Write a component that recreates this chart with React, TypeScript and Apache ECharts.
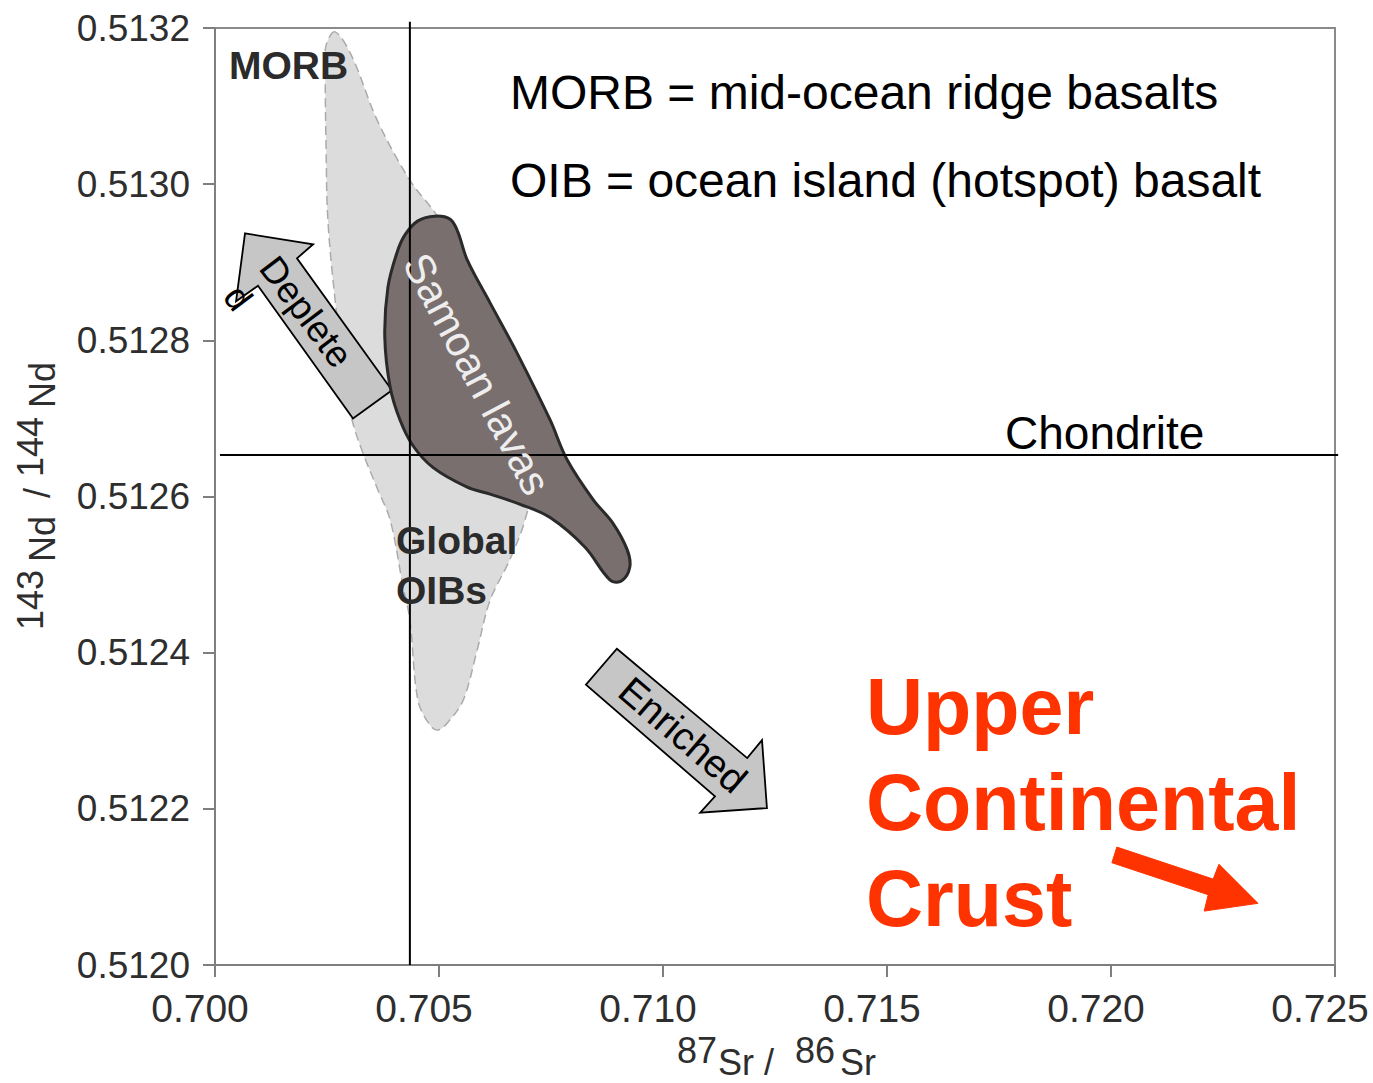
import React, { useEffect, useRef } from "react";
import * as echarts from "echarts";

// Axis ranges / ticks
const X_MIN = 0.7;
const X_MAX = 0.725;
const X_STEP = 0.005;
const Y_MIN = 0.512;
const Y_MAX = 0.5132;
const Y_STEP = 0.0002;

// Reference values
const bulkEarthSr = 0.70435; // vertical line
const bulkEarthSrExtentY = [0.513208, 0.512];
const chondriteNd = 0.512653; // horizontal line
const chondriteExtentX = [0.70011, 0.72507];

// Fields (87Sr/86Sr, 143Nd/144Nd)
const morbOibField = [
  [0.70268, 0.513195], [0.70248, 0.513178], [0.70246, 0.513146], [0.70248, 0.513044],
  [0.70252, 0.512954], [0.70268, 0.512852], [0.7029, 0.512749], [0.70306, 0.512698],
  [0.7033, 0.512656], [0.70364, 0.512608], [0.70391, 0.51257], [0.7042, 0.512484],
  [0.70435, 0.512442], [0.70453, 0.512339], [0.7048, 0.512307], [0.70498, 0.512301],
  [0.7052, 0.512311], [0.70554, 0.512339], [0.70585, 0.512403], [0.70614, 0.512467],
  [0.70658, 0.512519], [0.70692, 0.51257], [0.70714, 0.512634], [0.70681, 0.512724],
  [0.70592, 0.512852], [0.70502, 0.512954], [0.70435, 0.513005], [0.70362, 0.513082],
  [0.70306, 0.513163],
];

const samoanField = [
  [0.70424, 0.512935], [0.70453, 0.512953], [0.70491, 0.512959], [0.70525, 0.512955],
  [0.70542, 0.512939], [0.70563, 0.512903], [0.70614, 0.512848], [0.70674, 0.512784],
  [0.70748, 0.512698], [0.70786, 0.512647], [0.70844, 0.512596], [0.70888, 0.512566],
  [0.7092, 0.512532], [0.70926, 0.51251], [0.70908, 0.512492], [0.70882, 0.512493],
  [0.70826, 0.512535], [0.70748, 0.512573], [0.70681, 0.51259], [0.70614, 0.512603],
  [0.70563, 0.512612], [0.70487, 0.512637], [0.70442, 0.512665], [0.70413, 0.512698],
  [0.70391, 0.51274], [0.70379, 0.512804], [0.70386, 0.512868], [0.70406, 0.512912],
];

// Arrows
const depleteArrow = [
  [0.70067, 0.512937], [0.70219, 0.512923], [0.70183, 0.512905], [0.70395, 0.512736],
  [0.70308, 0.5127], [0.70096, 0.51287], [0.70047, 0.51285],
];
const enrichedArrow = [
  [0.70897, 0.512405], [0.71188, 0.512265], [0.71221, 0.512288], [0.71232, 0.512201],
  [0.71083, 0.512195], [0.71116, 0.512216], [0.70828, 0.512359],
];
const crustArrow = [
  [0.72013, 0.512151], [0.72228, 0.51211], [0.72241, 0.512129], [0.72328, 0.512079],
  [0.72208, 0.512069], [0.72217, 0.51209], [0.72002, 0.512131],
];

const FONT = "'Liberation Sans', Arial, Helvetica, sans-serif";

function polygonSeries(points: number[][], style: any, smooth: number, z: number) {
  return {
    type: "custom",
    z,
    silent: true,
    data: [[points[0][0], points[0][1]]],
    renderItem: (_p: any, api: any) => ({
      type: "polygon",
      shape: { points: points.map((pt) => api.coord(pt)), smooth },
      style,
    }),
  };
}

function lineSeries(a: number[], b: number[], z: number) {
  return {
    type: "custom",
    z,
    silent: true,
    data: [[a[0], a[1]]],
    renderItem: (_p: any, api: any) => {
      const p1 = api.coord(a);
      const p2 = api.coord(b);
      return {
        type: "line",
        shape: { x1: p1[0], y1: p1[1], x2: p2[0], y2: p2[1] },
        style: { stroke: "#000", lineWidth: 2 },
      };
    },
  };
}

function txt(text: string, x: number, y: number, size: number, opts: any = {}) {
  return {
    type: "text",
    x,
    y,
    rotation: opts.rotation || 0,
    z: 100,
    silent: true,
    style: {
      text,
      x: 0,
      y: 0,
      fill: opts.fill || "#000",
      font: `${opts.weight || "normal"} ${size}px ${FONT}`,
      fontSize: size,
      fontWeight: opts.weight || "normal",
      fontFamily: FONT,
      textAlign: opts.align || "left",
      align: opts.align || "left",
      textVerticalAlign: "middle",
      verticalAlign: "middle",
    },
  };
}

export default function App() {
  const ref = useRef<HTMLDivElement>(null);
  useEffect(() => {
    if (!ref.current) return;
    const chart = echarts.init(ref.current, undefined, { renderer: "svg" });
    const axisColor = "#7f7f7f";
    const deg = Math.PI / 180;
    chart.setOption({
      animation: false,
      backgroundColor: "#fff",
      grid: {
        left: 215,
        right: 38,
        top: 28,
        bottom: 118,
        show: true,
        borderColor: "#8a8a8a",
        borderWidth: 2,
        backgroundColor: "transparent",
      },
      xAxis: {
        type: "value",
        min: X_MIN,
        max: X_MAX,
        interval: X_STEP,
        axisLine: { show: true, lineStyle: { color: axisColor, width: 2 } },
        axisTick: { show: true, inside: false, length: 12, lineStyle: { color: axisColor, width: 2 } },
        splitLine: { show: false },
        axisLabel: {
          show: true,
          showMinLabel: true,
          showMaxLabel: true,
          fontSize: 39,
          fontFamily: FONT,
          color: "#2e2e2e",
          margin: 24,
          padding: [0, 30, 0, 0],
          formatter: (v: number) => v.toFixed(3),
        },
      },
      yAxis: {
        type: "value",
        min: Y_MIN,
        max: Y_MAX,
        interval: Y_STEP,
        axisLine: { show: true, lineStyle: { color: axisColor, width: 2 } },
        axisTick: { show: true, inside: false, length: 12, lineStyle: { color: axisColor, width: 2 } },
        splitLine: { show: false },
        axisLabel: {
          show: true,
          showMinLabel: true,
          showMaxLabel: true,
          fontSize: 37,
          fontFamily: FONT,
          color: "#2e2e2e",
          margin: 25,
          formatter: (v: number) => v.toFixed(4),
        },
      },
      series: [
        polygonSeries(
          morbOibField,
          { fill: "#dddcdd", stroke: "#ababab", lineWidth: 1.5, lineDash: [9, 5] },
          0.35,
          2
        ),
        polygonSeries(depleteArrow, { fill: "#c6c6c6", stroke: "#000", lineWidth: 1.8 }, 0, 3),
        polygonSeries(enrichedArrow, { fill: "#c6c6c6", stroke: "#000", lineWidth: 1.8 }, 0, 3),
        polygonSeries(samoanField, { fill: "#7a6f6f", stroke: "#2a2a2a", lineWidth: 3 }, 0.35, 4),
        polygonSeries(crustArrow, { fill: "#ff3300", stroke: "#ff3300", lineWidth: 1 }, 0, 4),
        lineSeries([bulkEarthSr, bulkEarthSrExtentY[0]], [bulkEarthSr, bulkEarthSrExtentY[1]], 5),
        lineSeries([chondriteExtentX[0], chondriteNd], [chondriteExtentX[1], chondriteNd], 5),
      ],
      graphic: [
        txt("MORB", 229, 65, 39, { weight: "bold", fill: "#2b2b2b" }),
        txt("Global", 396, 540, 39, { weight: "bold", fill: "#2b2b2b" }),
        txt("OIBs", 396, 590, 39, { weight: "bold", fill: "#2b2b2b" }),
        txt("MORB = mid-ocean ridge basalts", 510, 92, 48),
        txt("OIB = ocean island (hotspot) basalt", 510, 180, 48),
        txt("Chondrite", 1005, 433, 46),
        txt("Samoan lavas", 477, 374, 42, { fill: "#eeeeee", align: "center", rotation: -62 * deg }),
        txt("Deplete", 306, 312, 37, { align: "center", rotation: -53 * deg }),
        txt("d", 238, 298, 37, { align: "center", rotation: -53 * deg }),
        txt("Enriched", 683, 735, 39, { align: "center", rotation: -40.7 * deg }),
        txt("Upper", 866, 706, 79, { weight: "bold", fill: "#ff3300" }),
        txt("Continental", 866, 802, 79, { weight: "bold", fill: "#ff3300" }),
        txt("Crust", 866, 898, 79, { weight: "bold", fill: "#ff3300" }),
        // x-axis title: 87Sr / 86Sr
        txt("87", 677, 1050, 36, { fill: "#2e2e2e" }),
        txt("Sr /", 718, 1062, 36, { fill: "#2e2e2e" }),
        txt("86", 795, 1050, 36, { fill: "#2e2e2e" }),
        txt("Sr", 840, 1062, 36, { fill: "#2e2e2e" }),
        // y-axis title: 143Nd / 144Nd (rotated)
        txt("143", 30, 600, 36, { fill: "#2e2e2e", align: "center", rotation: 90 * deg }),
        txt("Nd", 42, 539, 36, { fill: "#2e2e2e", align: "center", rotation: 90 * deg }),
        txt("/", 37, 493, 36, { fill: "#2e2e2e", align: "center", rotation: 90 * deg }),
        txt("144", 30, 447, 36, { fill: "#2e2e2e", align: "center", rotation: 90 * deg }),
        txt("Nd", 42, 385, 36, { fill: "#2e2e2e", align: "center", rotation: 90 * deg }),
      ],
    });
    return () => chart.dispose();
  }, []);
  return (
    <div
      ref={ref}
      style={{ position: "fixed", left: 0, top: 0, width: 1373, height: 1083, background: "#fff" }}
    />
  );
}
